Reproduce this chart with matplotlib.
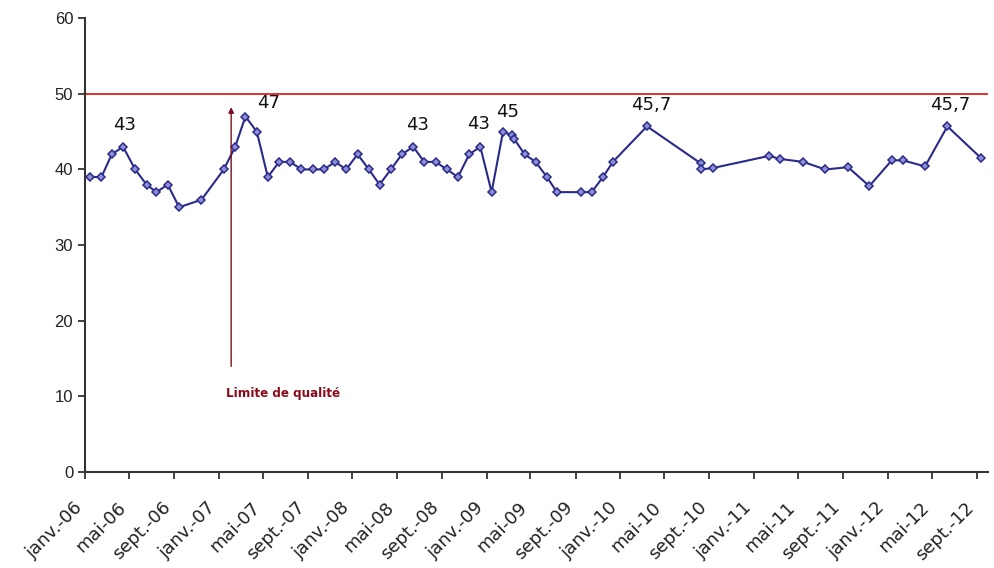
import numpy as np
import pandas as pd
import matplotlib
matplotlib.use("Agg")
import matplotlib.pyplot as plt
import matplotlib.transforms as mtransforms

plt.rcParams['font.family'] = ['Liberation Sans', 'DejaVu Sans']

# mesures (date, valeur)
dates = [
    "2006-01-15", "2006-02-15", "2006-03-15", "2006-04-15", "2006-05-18", "2006-06-18",
    "2006-07-15", "2006-08-15", "2006-09-15", "2006-11-15",
    "2007-01-15", "2007-02-15", "2007-03-15", "2007-04-15", "2007-05-15", "2007-06-15",
    "2007-07-15", "2007-08-15", "2007-09-15", "2007-10-15", "2007-11-15", "2007-12-15",
    "2008-01-15", "2008-02-15", "2008-03-15", "2008-04-15", "2008-05-15", "2008-06-15",
    "2008-07-15", "2008-08-15", "2008-09-15", "2008-10-15", "2008-11-15", "2008-12-15",
    "2009-01-15", "2009-02-15", "2009-03-12", "2009-03-18", "2009-04-15", "2009-05-15",
    "2009-06-15", "2009-07-12", "2009-09-15", "2009-10-15", "2009-11-15", "2009-12-12",
    "2010-03-15", "2010-08-09", "2010-08-10", "2010-09-12",
    "2011-02-12", "2011-03-12", "2011-05-15", "2011-07-15", "2011-09-15", "2011-11-12",
    "2012-01-12", "2012-02-12", "2012-04-12", "2012-06-12", "2012-09-12",
]
values = [
    39, 39, 42, 43, 40, 38,
    37, 38, 35, 36,
    40, 43, 47, 45, 39, 41,
    41, 40, 40, 40, 41, 40,
    42, 40, 38, 40, 42, 43,
    41, 41, 40, 39, 42, 43,
    37, 45, 44.5, 44, 42, 41,
    39, 37, 37, 37, 39, 41,
    45.7, 40.8, 40, 40.2,
    41.8, 41.4, 41, 40, 40.3, 37.8,
    41.2, 41.2, 40.4, 45.7, 41.5,
]

# etiquettes de valeurs : (index du point, texte, décalage en points)
labels = [(3, "43", (1, 9)), (12, "47", (17, 3)), (27, "43", (3, 9)),
          (33, "43", (-1, 10)), (35, "45", (3, 8)), (46, "45,7", (3, 9)),
          (59, "45,7", (2, 9))]

limite = 50
tick_months = pd.date_range("2006-01-01", "2012-09-01", freq="4MS")
mois = {1: "janv.", 5: "mai", 9: "sept."}
tick_labels = [f"{mois[d.month]}-{d.strftime('%y')}" for d in tick_months]

x = pd.to_datetime(dates)

fig = plt.figure(figsize=(9.94, 5.68), dpi=100)
ax = fig.add_axes([0.0855, 0.169, 0.9085, 0.799])

ax.axhline(limite, color="#e02020", lw=1.3, zorder=1)
ax.plot(x, values, color="#2a2a8c", lw=1.5, marker="D", ms=4.5,
        mfc="#8f8fd8", mec="#2a2a8c", mew=1.1, zorder=3)

for i, txt, off in labels:
    ax.annotate(txt, (x[i], values[i]), xytext=off, textcoords="offset points",
                ha="center", va="bottom", fontsize=13, color="#111111",
                fontfamily="DejaVu Sans")

ax.annotate("", xy=(pd.Timestamp("2007-02-04"), 48.6),
            xytext=(pd.Timestamp("2007-02-04"), 13.6),
            arrowprops=dict(arrowstyle="-|>", color="#7a1020", lw=1.0,
                            mutation_scale=8))
ax.text(pd.Timestamp("2007-01-20"), 10.4, "Limite de qualité", color="#8b0a1a",
        fontsize=9.5, fontweight="bold", fontfamily="DejaVu Sans",
        fontstretch="condensed", ha="left", va="center")

ax.set_ylim(0, 60)
ax.set_yticks(np.arange(0, 61, 10))
ax.set_xlim(pd.Timestamp("2006-01-01"), pd.Timestamp("2012-10-01"))

for s in ["top", "right"]:
    ax.spines[s].set_visible(False)
for s in ["left", "bottom"]:
    ax.spines[s].set_color("#333333")
    ax.spines[s].set_linewidth(1.5)
ax.tick_params(axis="both", direction="out", length=5, width=1.3, color="#333333",
               labelcolor="#222222")
ax.tick_params(axis="y", labelsize=12)
ax.tick_params(axis="x", pad=14)

ax.set_xticks(tick_months)
ax.set_xticklabels(tick_labels, rotation=45, ha="right", va="top",
                   rotation_mode="anchor", fontfamily="DejaVu Sans", fontsize=13)
# decaler les etiquettes vers la gauche
shift = mtransforms.ScaledTranslation(-0.12, 0, fig.dpi_scale_trans)
for lab in ax.get_xticklabels():
    lab.set_transform(lab.get_transform() + shift)

fig.savefig("out.png", dpi=100)
